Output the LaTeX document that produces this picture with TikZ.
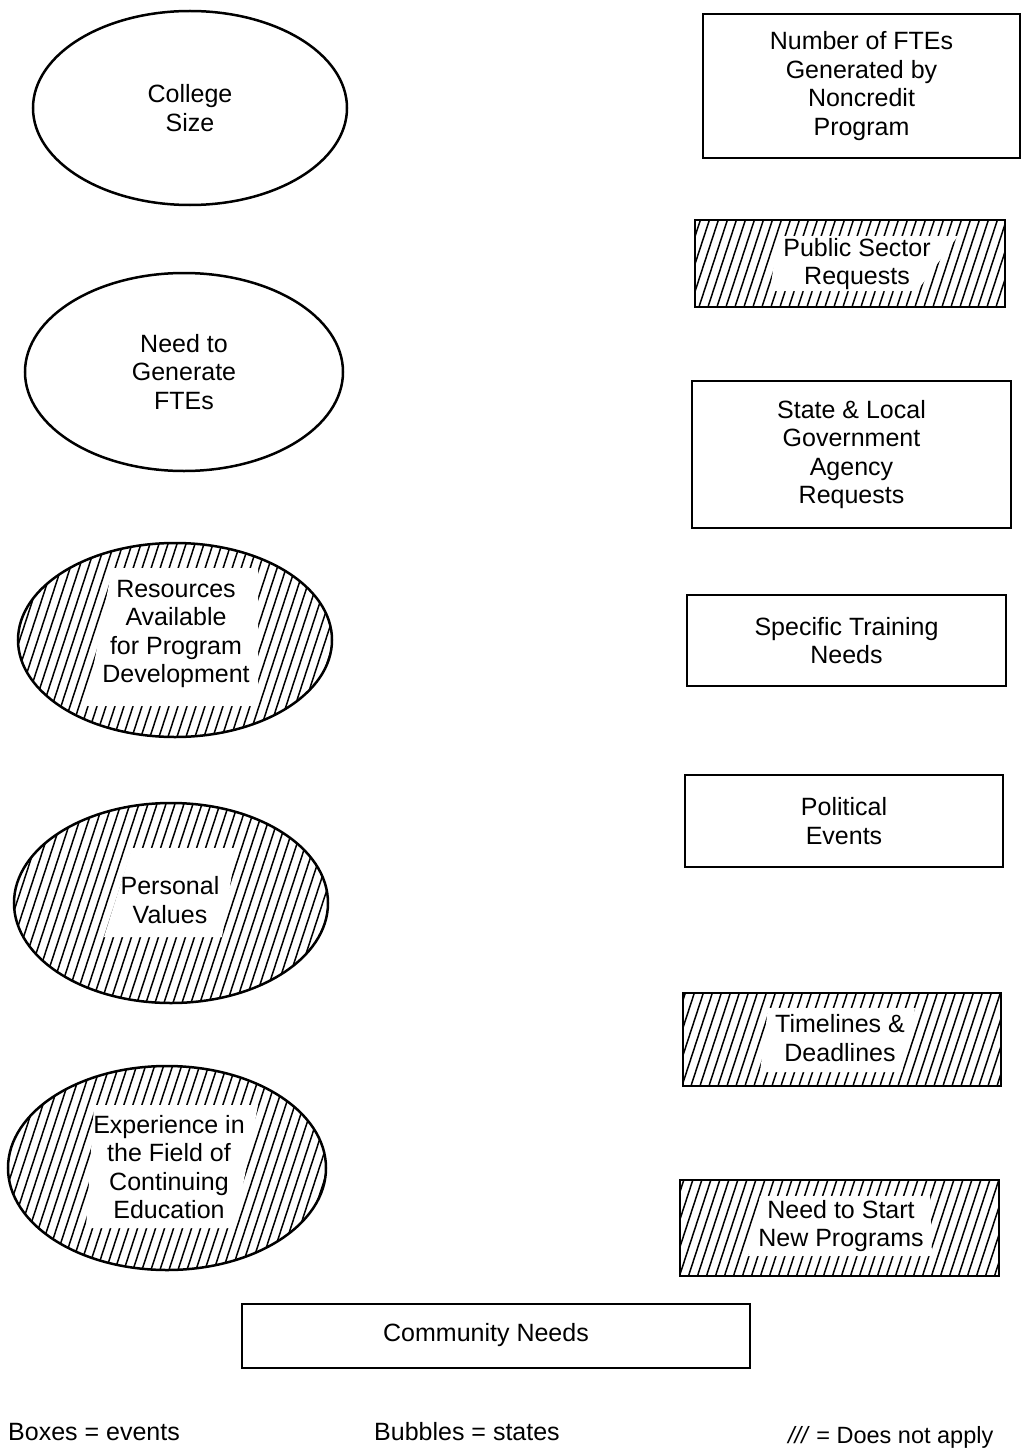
\documentclass[tikz,border=0pt]{standalone}
\usepackage{fontspec}
\setmainfont{Liberation Sans}
\usetikzlibrary{shapes.geometric}
\begin{document}
\begin{tikzpicture}[x=1pt,y=-1pt,
  txtfont/.style={font=\fontsize{25}{28.5}\selectfont},
  lbl/.style={align=center,txtfont,inner sep=0pt},
  outl/.style={draw=black,line width=2.5pt},
  bubble/.style={ellipse,outl,inner sep=0pt,align=center,txtfont},
  evbox/.style={rectangle,outl,inner sep=0pt,align=center,txtfont},
  hatch/.style={path picture={
     \foreach \k in {-45,...,45}{
       \draw[line width=1.5pt] ([xshift=\k*9pt,yshift=-6pt]path picture bounding box.south) -- ++(80pt,245pt);
     }}},
  clear/.style={fill=white},
  legend/.style={anchor=west,inner sep=0pt,txtfont}
]
\fill[white] (0,0) rectangle (1027,1450);
\useasboundingbox (0,0) rectangle (1027,1450);

% bubbles (states)
\node[bubble,minimum width=314pt,minimum height=194pt] (e1) at (190,108) {College\\Size};
\node[bubble,minimum width=318pt,minimum height=198pt] (e2) at (184,372) {Need to\\Generate\\FTEs};

\node[bubble,hatch,minimum width=314pt,minimum height=194pt] (e3) at (175,640) {};
\fill[clear] (112,568) -- (258,568) -- (258,706) -- (86,706) -- cycle;
\node[lbl] (e3t) at (176,634) {Resources\\Available\\for Program\\Development};

\node[bubble,hatch,minimum width=314pt,minimum height=200pt] (e4) at (171,903) {};
\fill[clear] (132,848) -- (236,848) -- (222,937) -- (104,937) -- cycle;
\node[lbl] (e4t) at (170,900) {Personal\\Values};

\node[bubble,hatch,minimum width=318pt,minimum height=204pt] (e5) at (167,1168) {};
\fill[clear] (94,1105) -- (258,1105) -- (235,1228) -- (86,1228) -- cycle;
\node[lbl] (e5t) at (169,1167) {Experience in\\the Field of\\Continuing\\Education};

% boxes (events)
\node[evbox,minimum width=317pt,minimum height=144pt] (b1) at (861.5,86) {Number of FTEs\\Generated by\\Noncredit\\Program};

\node[evbox,hatch,minimum width=310pt,minimum height=87pt] (b2) at (850,263.5) {};
\fill[clear] (778,236) -- (958,236) -- (917,291) -- (770,291) -- cycle;
\node[lbl] (b2t) at (857,264) {Public Sector\\Requests};

\node[evbox,minimum width=319pt,minimum height=147pt] (b3) at (851.5,454.5) {State \& Local\\Government\\Agency\\Requests};
\node[evbox,minimum width=319pt,minimum height=91pt] (b4) at (846.5,640.5) {Specific Training\\Needs};
\node[evbox,minimum width=318pt,minimum height=92pt] (b5) at (844,821) {Political\\Events};

\node[evbox,hatch,minimum width=318pt,minimum height=93pt] (b6) at (842,1039.5) {};
\fill[clear] (768,1008) -- (915,1008) -- (902,1072) -- (760,1072) -- cycle;
\node[lbl] (b6t) at (840,1038) {Timelines \&\\Deadlines};

\node[evbox,hatch,minimum width=319pt,minimum height=96pt] (b7) at (839.5,1228) {};
\fill[clear] (760,1196) -- (930,1196) -- (932,1256) -- (748,1256) -- cycle;
\node[lbl] (b7t) at (841,1226) {Need to Start\\New Programs};

\node[evbox,minimum width=508pt,minimum height=64pt] (b8) at (496,1336) {};
\node[lbl] (b8t) at (486,1335) {Community Needs};

% legend
\node[legend] (l1) at (8,1432) {Boxes = events};
\node[legend] (l2) at (374,1432) {Bubbles = states};
\node[legend,font=\fontsize{23.5}{28}\selectfont] (l3) at (788,1437) {\textit{///} = Does not apply};
\end{tikzpicture}
\end{document}
